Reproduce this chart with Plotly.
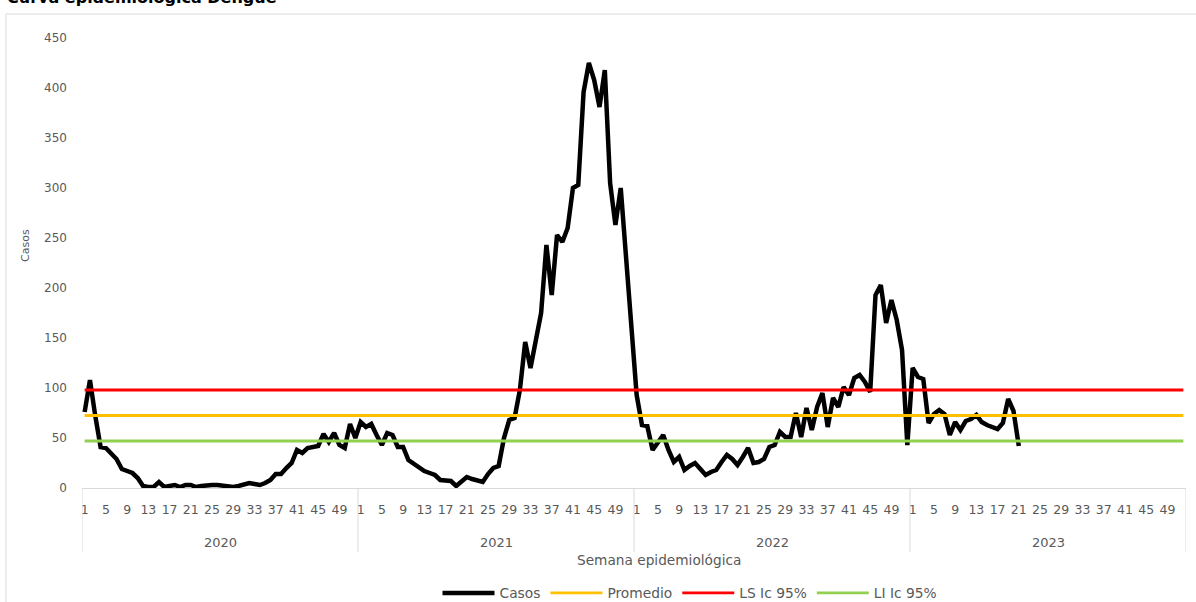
import plotly.graph_objects as go

# ---- data ----
years = ["2020", "2021", "2022", "2023"]
weeks_per_year = 52
tick_weeks = [1, 5, 9, 13, 17, 21, 25, 29, 33, 37, 41, 45, 49]

casos_2020 = [76, 108, 72, 41, 40, 34, 29, 19, 17, 15, 10, 2, 1, 1, 6, 1, 2, 3, 1, 3,
              3, 1, 2, 3, 3, 3, 2, 2, 1, 2, 4, 5, 4, 3, 5, 8, 14, 14, 20, 25,
              38, 35, 40, 41, 42, 54, 46, 55, 43, 40, 64, 50]
casos_2021 = [66, 61, 64, 53, 43, 55, 53, 41, 41, 28, 24, 20, 17, 15, 13, 8, 7, 7, 2, 6,
              11, 9, 8, 6, 14, 20, 22, 50, 68, 70, 98, 146, 120, 148, 175, 243, 193, 253, 246, 260,
              300, 303, 396, 425, 408, 381, 418, 305, 263, 300, 232, 163]
casos_2022 = [93, 63, 62, 38, 45, 53, 38, 26, 31, 18, 22, 25, 19, 13, 16, 18, 26, 33, 29, 23,
              31, 40, 25, 26, 29, 41, 43, 56, 51, 51, 75, 51, 80, 58, 81, 95, 61, 90, 81, 101,
              93, 110, 113, 106, 96, 193, 203, 165, 188, 168, 138, 43]
casos_2023 = [120, 111, 109, 65, 74, 78, 74, 53, 66, 58, 67, 69, 73, 66, 63, 61, 59, 65, 89, 77,
              42]

promedio = 72.5
ls_ic95 = 98
li_ic95 = 47

# ---- build series ----
n = weeks_per_year * len(years)
x = list(range(n))
casos = casos_2020 + casos_2021 + casos_2022 + casos_2023
casos = casos + [None] * (n - len(casos))

GRAY_TXT = "#595959"
AXIS_GRAY = "#D9D9D9"
FONT = "DejaVu Sans"

fig = go.Figure()
fig.add_trace(go.Scatter(x=x, y=casos, mode="lines", name="Casos",
                         line=dict(color="#000000", width=4.5), connectgaps=False))
fig.add_trace(go.Scatter(x=x, y=[promedio] * n, mode="lines", name="Promedio",
                         line=dict(color="#FFC000", width=2.8)))
fig.add_trace(go.Scatter(x=x, y=[ls_ic95] * n, mode="lines", name="LS Ic 95%",
                         line=dict(color="#FF0000", width=2.8)))
fig.add_trace(go.Scatter(x=x, y=[li_ic95] * n, mode="lines", name="LI Ic 95%",
                         line=dict(color="#92D050", width=2.8)))

tickvals = [yi * weeks_per_year + (w - 1) for yi in range(len(years)) for w in tick_weeks]
ticktext = [str(w) for yi in range(len(years)) for w in tick_weeks]

L, R, T, B = 82, 10, 38, 114
W, H = 1196, 602
PW, PH = W - L - R, H - T - B

def px_x(p):
    return (p - L) / PW

def px_y(p):
    return 1 - (p - T) / PH

shapes = []
for k in range(len(years) + 1):
    xv = k * weeks_per_year - 0.5
    shapes.append(dict(type="line", xref="x", yref="paper", x0=xv, x1=xv,
                       y0=0, y1=px_y(552), line=dict(color=AXIS_GRAY, width=1)))
# chart-area border
shapes.append(dict(type="rect", xref="paper", yref="paper",
                   x0=px_x(6), x1=px_x(1230), y0=px_y(640), y1=px_y(14),
                   line=dict(color=AXIS_GRAY, width=1), fillcolor="rgba(0,0,0,0)", layer="below"))

annotations = []
for k, yr in enumerate(years):
    annotations.append(dict(text=yr, x=k * weeks_per_year + 25.5, xref="x",
                            y=px_y(542), yref="paper", showarrow=False,
                            xanchor="center", yanchor="middle",
                            font=dict(family=FONT, size=13, color=GRAY_TXT)))
annotations.append(dict(text="Semana epidemiológica", x=px_x(659), xref="paper",
                        y=px_y(560), yref="paper", showarrow=False,
                        xanchor="center", yanchor="middle",
                        font=dict(family=FONT, size=13.7, color=GRAY_TXT)))
annotations.append(dict(text="Casos", x=px_x(25), xref="paper",
                        y=px_y(246), yref="paper", showarrow=False, textangle=-90,
                        xanchor="center", yanchor="middle",
                        font=dict(family=FONT, size=11, color=GRAY_TXT)))
annotations.append(dict(text="<b>Curva epidemiológica Dengue</b>", x=px_x(5), xref="paper",
                        y=px_y(9), yref="paper", showarrow=False,
                        xanchor="left", yanchor="bottom",
                        font=dict(family=FONT, size=16, color="#000000")))

fig.update_layout(
    width=W, height=H,
    margin=dict(l=L, r=R, t=T, b=B, autoexpand=False),
    paper_bgcolor="white", plot_bgcolor="white",
    font=dict(family=FONT, color=GRAY_TXT),
    showlegend=True,
    legend=dict(orientation="h", x=px_x(690), xanchor="center",
                y=px_y(593), yanchor="middle", itemwidth=52,
                font=dict(family=FONT, size=13.8, color=GRAY_TXT),
                bgcolor="rgba(0,0,0,0)"),
    shapes=shapes, annotations=annotations,
)
fig.update_xaxes(range=[-0.5, n - 0.5], tickmode="array", tickvals=tickvals, ticktext=ticktext,
                 showgrid=False, zeroline=False, showline=True, linecolor=AXIS_GRAY, linewidth=1,
                 ticks="", ticklabelstandoff=10,
                 tickfont=dict(family=FONT, size=12.5, color=GRAY_TXT))
fig.update_yaxes(range=[0, 450], dtick=50, tick0=0, showgrid=False, zeroline=False,
                 showline=False, ticks="", ticklabelstandoff=14,
                 tickfont=dict(family=FONT, size=12, color=GRAY_TXT))

fig.write_html("out.html", config={"displayModeBar": False},
               post_script="document.body.style.margin='0';document.body.style.overflow='hidden';")
